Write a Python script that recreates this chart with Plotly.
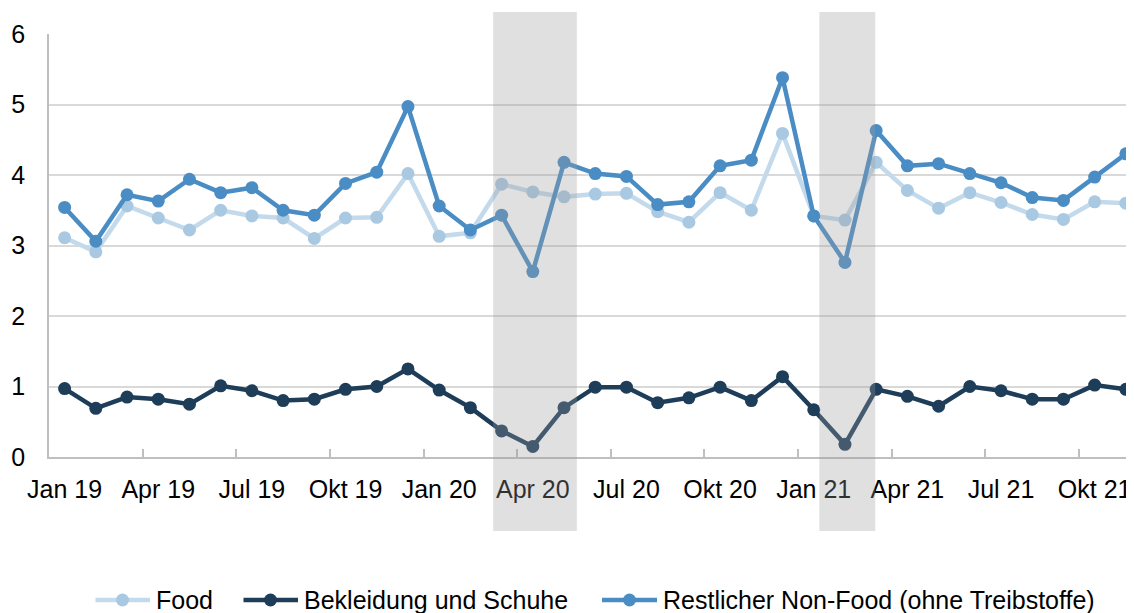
import plotly.graph_objects as go

months = ["Jan 19","Feb 19","Mär 19","Apr 19","Mai 19","Jun 19","Jul 19","Aug 19","Sep 19","Okt 19","Nov 19","Dez 19",
          "Jan 20","Feb 20","Mär 20","Apr 20","Mai 20","Jun 20","Jul 20","Aug 20","Sep 20","Okt 20","Nov 20","Dez 20",
          "Jan 21","Feb 21","Mär 21","Apr 21","Mai 21","Jun 21","Jul 21","Aug 21","Sep 21","Okt 21","Nov 21"]

food = [3.11, 2.91, 3.56, 3.39, 3.22, 3.50, 3.42, 3.39, 3.10, 3.39, 3.40, 4.02,
        3.13, 3.18, 3.87, 3.76, 3.69, 3.73, 3.74, 3.48, 3.33, 3.75, 3.50, 4.59,
        3.42, 3.36, 4.18, 3.78, 3.53, 3.75, 3.61, 3.44, 3.37, 3.62, 3.60]

bekleidung = [0.97, 0.69, 0.85, 0.82, 0.75, 1.01, 0.94, 0.80, 0.82, 0.96, 1.00, 1.25,
              0.95, 0.70, 0.37, 0.15, 0.70, 0.99, 0.99, 0.77, 0.84, 0.99, 0.80, 1.14,
              0.67, 0.18, 0.96, 0.86, 0.72, 1.00, 0.94, 0.82, 0.82, 1.02, 0.96]

nonfood = [3.54, 3.06, 3.72, 3.63, 3.94, 3.75, 3.82, 3.50, 3.43, 3.88, 4.04, 4.97,
           3.56, 3.22, 3.43, 2.63, 4.18, 4.02, 3.98, 3.58, 3.62, 4.13, 4.21, 5.38,
           3.42, 2.76, 4.63, 4.13, 4.16, 4.02, 3.89, 3.68, 3.64, 3.97, 4.30]

tick_labels = ["Jan 19","Apr 19","Jul 19","Okt 19","Jan 20","Apr 20","Jul 20","Okt 20","Jan 21","Apr 21","Jul 21","Okt 21"]
series_names = ["Food", "Bekleidung und Schuhe", "Restlicher Non-Food (ohne Treibstoffe)"]
shade_periods = [(13.73, 16.41), (24.18, 25.97)]

# page body has an 8px margin: figure is sized to fill the rest of the window
OFF = 8
W, H = 1134 - OFF, 613 - OFF
ML, MR, MT, MB = 49 - OFF, 0, 34 - OFF, 156
PW, PH = W - ML - MR, H - MT - MB

x = list(range(len(months)))
FONT = "Liberation Sans, Arial, sans-serif"
FS = 25

C_FOOD_LINE = "#c3daec"
C_FOOD_MK = "#a9c9e2"
C_BEK = "#1e3d59"
C_NF = "#4a8cc4"

fig = go.Figure()
fig.add_trace(go.Scatter(x=x, y=food, name=series_names[0], mode="lines+markers",
                         line=dict(color=C_FOOD_LINE, width=4.5),
                         marker=dict(color=C_FOOD_MK, size=13), showlegend=False))
fig.add_trace(go.Scatter(x=x, y=bekleidung, name=series_names[1], mode="lines+markers",
                         line=dict(color=C_BEK, width=4.5),
                         marker=dict(color=C_BEK, size=13), showlegend=False))
fig.add_trace(go.Scatter(x=x, y=nonfood, name=series_names[2], mode="lines+markers",
                         line=dict(color=C_NF, width=4.5),
                         marker=dict(color=C_NF, size=13), showlegend=False))

# helpers: screen pixel -> paper coordinates
def px_x(p):
    return (p - OFF - ML) / PW

def px_y(p):
    return (MT + PH - (p - OFF)) / PH

shapes = []
for (a, b) in shade_periods:
    shapes.append(dict(type="rect", xref="x", yref="paper", x0=a, x1=b,
                       y0=px_y(531), y1=px_y(12),
                       fillcolor="rgba(157,157,157,0.315)", line=dict(width=0), layer="above"))

annotations = []
legend_items = [
    (series_names[0], 95.5, 150, 122.5, 154, C_FOOD_LINE, C_FOOD_MK),
    (series_names[1], 243.5, 298, 270.5, 301.5, C_BEK, C_BEK),
    (series_names[2], 602, 657, 629.5, 661, C_NF, C_NF),
]
LY = 600
for name, lx0, lx1, mx, tx, lc, mc in legend_items:
    shapes.append(dict(type="line", xref="paper", yref="paper",
                       x0=px_x(lx0), x1=px_x(lx1), y0=px_y(LY), y1=px_y(LY),
                       line=dict(color=lc, width=4.5)))
    shapes.append(dict(type="circle", xref="paper", yref="paper",
                       xsizemode="pixel", ysizemode="pixel",
                       xanchor=px_x(mx), yanchor=px_y(LY),
                       x0=-6.5, x1=6.5, y0=-6.5, y1=6.5,
                       fillcolor=mc, line=dict(width=0)))
    annotations.append(dict(xref="paper", yref="paper", x=px_x(tx), y=px_y(LY),
                            xanchor="left", yanchor="middle", text=name, showarrow=False,
                            font=dict(family=FONT, size=FS, color="#000000")))

fig.update_layout(
    width=W, height=H,
    margin=dict(l=ML, r=MR, t=MT, b=MB, pad=0),
    paper_bgcolor="white", plot_bgcolor="white",
    showlegend=False,
    font=dict(family=FONT, size=FS, color="#000000"),
    shapes=shapes, annotations=annotations,
    xaxis=dict(range=[-0.5, 34.26], tickvals=list(range(0, 34, 3)), ticktext=tick_labels,
               showgrid=False, zeroline=False, showline=True, linecolor="#bfbfbf", linewidth=2,
               ticks="", ticklabelstandoff=9,
               minor=dict(tickvals=[2.5 + 3 * i for i in range(11)], ticks="inside",
                          ticklen=8, tickcolor="#bfbfbf", tickwidth=1.5, showgrid=False),
               tickfont=dict(family=FONT, size=FS, color="#000000")),
    yaxis=dict(range=[0, 6], tickvals=[0, 1, 2, 3, 4, 5, 6], showgrid=True,
               gridcolor="#d9d9d9", gridwidth=1.5, zeroline=False,
               showline=True, linecolor="#bfbfbf", linewidth=1.5,
               ticks="", ticklabelstandoff=17,
               tickfont=dict(family=FONT, size=FS, color="#000000")),
)

fig.write_html("out.html")
